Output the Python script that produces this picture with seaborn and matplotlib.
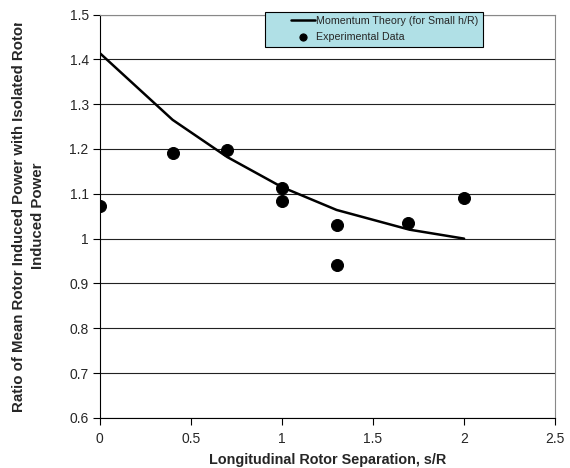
import matplotlib
matplotlib.use("Agg")
import matplotlib.pyplot as plt
import seaborn as sns
import pandas as pd
from matplotlib.patches import Rectangle
from matplotlib.transforms import Bbox

# momentum theory curve
theory_x = [0, 0.4, 0.7, 1.0, 1.3, 1.7, 2.0]
theory_y = [1.414, 1.265, 1.182, 1.115, 1.064, 1.02, 1.0]

# experimental data
exp_x = [0, 0.4, 0.7, 1.0, 1.0, 1.3, 1.3, 1.69, 2.0]
exp_y = [1.072, 1.19, 1.198, 1.113, 1.084, 1.03, 0.941, 1.034, 1.091]

y_ticks = [0.6, 0.7, 0.8, 0.9, 1.0, 1.1, 1.2, 1.3, 1.4, 1.5]
y_labels = ["0.6", "0.7", "0.8", "0.9", "1", "1.1", "1.2", "1.3", "1.4", "1.5"]
x_ticks = [0, 0.5, 1.0, 1.5, 2.0, 2.5]
x_labels = ["0", "0.5", "1", "1.5", "2", "2.5"]

theory = pd.DataFrame({"s": theory_x, "ratio": theory_y})
exp = pd.DataFrame({"s": exp_x, "ratio": exp_y})

sns.set_style("white")
plt.rcParams["font.family"] = ["Liberation Sans", "DejaVu Sans"]

fig = plt.figure(figsize=(5.7, 4.68), dpi=100)
ax = fig.add_axes([0.175, 0.107, 0.799, 0.862])

for y in y_ticks:
    ax.axhline(y, color="#222222", lw=0.8, zorder=0)

sns.lineplot(data=theory, x="s", y="ratio", ax=ax, color="black", lw=1.8,
             label="Momentum Theory (for Small h/R)", zorder=3)
sns.scatterplot(data=exp, x="s", y="ratio", ax=ax, color="black", s=75,
                edgecolor="black", label="Experimental Data", zorder=4)

ax.set_xlim(0, 2.5)
ax.set_ylim(0.6, 1.5)
ax.set_xticks(x_ticks)
ax.set_xticklabels(x_labels, fontsize=10)
ax.set_yticks(y_ticks)
ax.set_yticklabels(y_labels, fontsize=10)
ax.tick_params(axis="both", direction="out", length=5, width=0.8, color="black",
               bottom=True, left=True, pad=3)
ax.tick_params(axis="x", pad=5)

for side in ["left", "bottom"]:
    ax.spines[side].set_color("black")
    ax.spines[side].set_linewidth(0.8)
for side in ["right", "top"]:
    ax.spines[side].set_color("#888888")
    ax.spines[side].set_linewidth(0.8)

ax.set_xlabel("Longitudinal Rotor Separation, s/R", fontsize=10.4, fontweight="bold", labelpad=5)
ax.set_ylabel("")

# y label, wrapped and cut at the top like the original
ylab = fig.text(0.05, 0.538,
                "Ratio of Mean Rotor Induced Power with Isolated Rotor\nInduced Power",
                rotation=90, ha="center", va="center", multialignment="center",
                fontsize=10.8, fontweight="bold", linespacing=1.4)
ylab.set_clip_box(Bbox([[0, 0], [570, 468 - 23]]))
ylab.set_clip_on(True)

# legend
handles, labels = ax.get_legend_handles_labels()
ax.get_legend().remove()
fig.patches.append(Rectangle((265 / 570, 1 - 47 / 468), 218 / 570, 35 / 468,
                             transform=fig.transFigure, facecolor="#B0E0E6",
                             edgecolor="black", lw=0.8, zorder=2))
leg = fig.legend(handles, labels, loc="upper left", bbox_to_anchor=(291 / 570, 1 - 16 / 468),
                 fontsize=7.7, frameon=False, handlelength=2.2, handletextpad=0.15,
                 borderpad=0, borderaxespad=0, labelspacing=0.55, markerscale=0.6)
leg.set_zorder(5)

fig.savefig("out.png", dpi=100)
